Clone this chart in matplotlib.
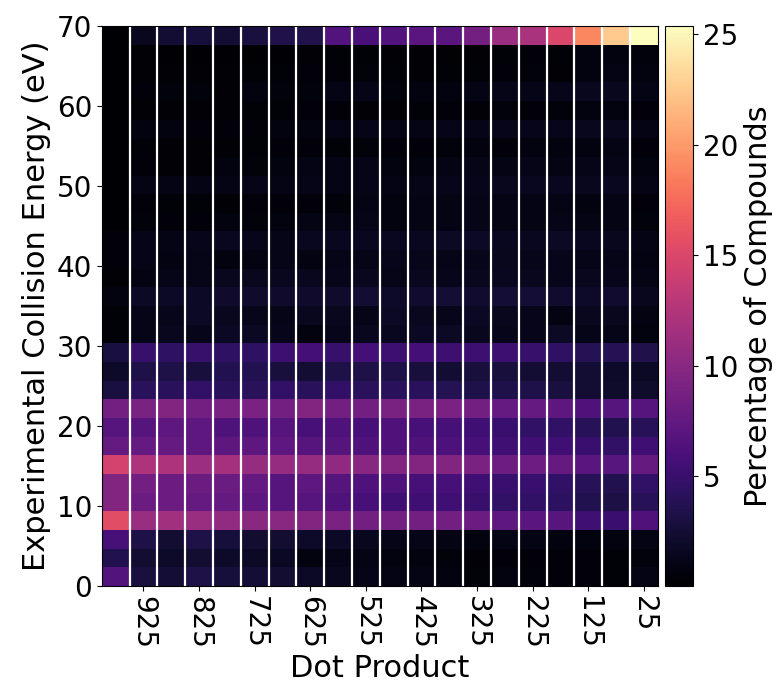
import matplotlib
matplotlib.use("Agg")
import matplotlib.pyplot as plt
import numpy as np

# dot product bins (left edge 1000 -> right edge 0), collision energy 0-70 eV
dot_edges = [1000, 950, 900, 850, 800, 750, 700, 650, 600, 550, 500,
             450, 400, 350, 300, 250, 200, 150, 100, 50, 0]
energy_edges = list(np.linspace(0, 70, 31))
tick_labels = [925, 825, 725, 625, 525, 425, 325, 225, 125, 25]

# percentage of compounds, rows from 0 eV upwards, columns from dot 1000 down to 0
pct = [
    [6.5, 3.0, 2.6, 3.3, 2.8, 2.6, 2.4, 1.9, 1.5, 1.2, 1.0, 1.0, 0.8, 0.6, 0.8, 0.6, 0.5, 0.5, 0.4, 1.0],
    [3.6, 2.4, 2.0, 2.4, 2.0, 1.9, 1.7, 0.8, 1.2, 1.0, 0.8, 0.8, 0.6, 0.5, 0.5, 0.5, 0.5, 0.5, 0.4, 0.7],
    [5.8, 3.3, 2.4, 3.3, 2.8, 2.4, 2.4, 2.0, 1.9, 1.5, 1.2, 1.2, 1.0, 0.8, 1.0, 1.0, 0.8, 0.8, 0.8, 1.0],
    [15.5, 11.0, 11.5, 11.0, 10.5, 10.0, 10.0, 9.5, 9.0, 8.5, 8.5, 8.5, 8.5, 8.0, 7.2, 7.0, 6.8, 5.4, 5.0, 6.3],
    [9.5, 8.0, 8.0, 7.6, 7.6, 7.2, 6.7, 6.7, 6.3, 5.8, 5.4, 5.4, 5.4, 5.0, 4.5, 4.5, 4.3, 3.6, 3.2, 4.0],
    [9.5, 8.5, 8.0, 8.0, 8.0, 7.6, 6.7, 7.2, 6.7, 6.3, 6.3, 5.8, 5.8, 5.4, 5.0, 5.0, 4.5, 4.0, 3.6, 4.5],
    [14.5, 12.2, 12.2, 11.2, 11.7, 10.8, 10.8, 10.8, 10.4, 9.9, 9.5, 9.5, 9.5, 9.0, 8.1, 8.1, 7.7, 7.0, 6.8, 7.7],
    [7.6, 7.6, 7.6, 7.2, 7.2, 7.2, 7.2, 6.7, 6.7, 6.3, 6.3, 6.3, 6.1, 5.8, 5.4, 5.4, 5.4, 5.0, 4.5, 5.4],
    [6.7, 6.7, 7.2, 7.2, 6.3, 6.3, 6.7, 5.8, 6.3, 5.8, 6.3, 5.8, 5.8, 5.4, 5.0, 4.5, 4.5, 4.0, 3.6, 4.0],
    [8.5, 9.0, 9.5, 8.5, 9.0, 9.0, 8.5, 9.5, 8.5, 8.5, 9.0, 9.0, 9.0, 8.5, 7.6, 7.6, 7.2, 6.3, 6.7, 6.7],
    [3.0, 4.2, 4.2, 4.6, 4.2, 4.2, 4.6, 4.2, 4.6, 4.2, 4.2, 4.2, 3.8, 3.4, 3.4, 3.4, 3.0, 2.5, 2.1, 2.1],
    [2.0, 3.3, 3.3, 2.9, 3.7, 3.7, 2.9, 2.5, 3.3, 3.3, 3.3, 2.9, 2.5, 2.9, 2.9, 2.5, 2.5, 2.5, 2.0, 1.8],
    [3.0, 4.8, 4.4, 4.8, 4.4, 4.4, 5.2, 5.6, 4.8, 5.6, 5.2, 5.6, 5.2, 5.2, 5.2, 4.8, 4.4, 3.9, 3.9, 3.5],
    [0.4, 1.2, 1.5, 1.3, 1.7, 1.7, 1.3, 0.8, 1.3, 1.5, 1.6, 1.7, 1.8, 1.5, 1.3, 1.3, 1.8, 1.2, 1.2, 0.8],
    [0.4, 1.2, 1.3, 1.8, 1.5, 1.3, 1.2, 1.5, 1.5, 1.2, 1.8, 1.5, 1.3, 1.7, 1.5, 1.3, 0.9, 1.5, 1.5, 0.9],
    [0.8, 1.9, 1.9, 1.9, 2.2, 2.2, 2.2, 2.2, 2.2, 2.5, 2.0, 2.3, 2.6, 2.3, 2.6, 2.6, 2.3, 2.0, 2.3, 1.5],
    [0.3, 0.9, 1.2, 1.2, 1.5, 1.5, 1.5, 1.5, 1.3, 1.5, 1.2, 1.5, 1.3, 1.5, 1.6, 1.5, 1.3, 1.5, 1.3, 1.0],
    [0.5, 1.2, 0.9, 1.2, 0.8, 0.9, 1.2, 0.9, 1.2, 1.2, 1.3, 1.3, 1.2, 1.3, 1.5, 1.3, 1.3, 1.2, 1.2, 0.9],
    [0.5, 1.2, 1.0, 1.3, 1.6, 1.3, 1.2, 1.6, 1.6, 1.6, 1.6, 1.6, 1.8, 1.8, 1.6, 1.6, 1.8, 1.6, 1.5, 1.0],
    [0.1, 0.6, 0.5, 0.5, 0.8, 0.6, 0.8, 1.0, 1.0, 1.2, 0.8, 1.0, 1.0, 1.2, 1.0, 1.0, 1.2, 1.0, 1.0, 0.6],
    [0.1, 0.5, 0.4, 0.4, 0.3, 0.5, 0.5, 0.5, 0.6, 1.0, 0.8, 1.0, 1.0, 1.2, 1.0, 1.0, 1.0, 0.8, 1.0, 0.5],
    [0.1, 1.0, 1.0, 1.0, 1.0, 1.2, 1.0, 1.2, 1.0, 1.2, 1.0, 1.2, 1.3, 1.3, 1.5, 1.6, 1.6, 1.5, 1.6, 1.0],
    [0.1, 0.5, 0.3, 0.3, 0.8, 0.6, 0.8, 1.0, 1.0, 1.2, 0.8, 0.8, 1.0, 1.2, 1.0, 1.2, 1.0, 1.2, 1.2, 0.8],
    [0.1, 0.4, 0.3, 0.3, 0.3, 0.4, 0.5, 0.5, 0.4, 0.6, 0.5, 0.5, 0.6, 0.8, 0.5, 0.8, 0.8, 0.8, 1.0, 0.5],
    [0.1, 0.8, 0.8, 0.5, 0.5, 0.5, 0.8, 0.8, 1.0, 1.2, 1.0, 1.0, 1.2, 1.2, 1.3, 1.3, 1.3, 1.5, 1.5, 1.0],
    [0.1, 0.3, 0.3, 0.3, 0.3, 0.4, 0.4, 0.5, 0.5, 0.3, 0.3, 0.4, 0.5, 0.5, 0.6, 0.5, 0.6, 0.8, 0.8, 0.5],
    [0.1, 0.5, 0.6, 0.6, 0.3, 0.8, 0.6, 0.6, 1.0, 1.2, 0.6, 0.8, 0.8, 1.0, 1.2, 1.2, 1.3, 1.5, 1.5, 1.0],
    [0.1, 0.3, 0.3, 0.3, 0.3, 0.4, 0.4, 0.5, 0.5, 0.6, 0.4, 0.3, 0.4, 0.4, 0.5, 0.6, 0.3, 0.8, 1.0, 0.8],
    [0.1, 0.3, 0.2, 0.2, 0.2, 0.2, 0.2, 0.3, 0.4, 0.4, 0.3, 0.3, 0.3, 0.3, 0.4, 0.5, 0.4, 0.8, 0.8, 0.6],
    [0.1, 1.5, 2.5, 2.8, 2.5, 3.0, 3.5, 3.5, 6.5, 6.0, 6.5, 7.0, 7.0, 8.5, 11.0, 12.0, 15.0, 19.0, 22.5, 25.3],
]

fig = plt.figure(figsize=(7.83, 6.91), dpi=100)
ax = fig.add_axes([0.130, 0.152, 0.710, 0.810])
cax = fig.add_axes([0.849, 0.152, 0.036, 0.810])

mesh = ax.pcolormesh(dot_edges, energy_edges, np.array(pct), cmap="magma",
                     vmin=0.05, vmax=25.35)
# white separators between the dot product bins
ax.vlines(dot_edges[1:-1], 0, 70, colors="white", linewidth=1.6)

ax.set_xlim(1000, 0)
ax.set_ylim(0, 70)
ax.set_xticks(tick_labels)
ax.set_xticklabels([str(t) for t in tick_labels], rotation=270)
ax.set_yticks(range(0, 71, 10))
ax.tick_params(labelsize=20)
ax.set_xlabel("Dot Product", fontsize=22)
ax.set_ylabel("Experimental Collision Energy (eV)", fontsize=22)

cb = fig.colorbar(mesh, cax=cax)
cb.set_ticks([5, 10, 15, 20, 25])
cb.ax.tick_params(labelsize=20)
cb.set_label("Percentage of Compounds", fontsize=22)

plt.savefig("out.png", dpi=100)
